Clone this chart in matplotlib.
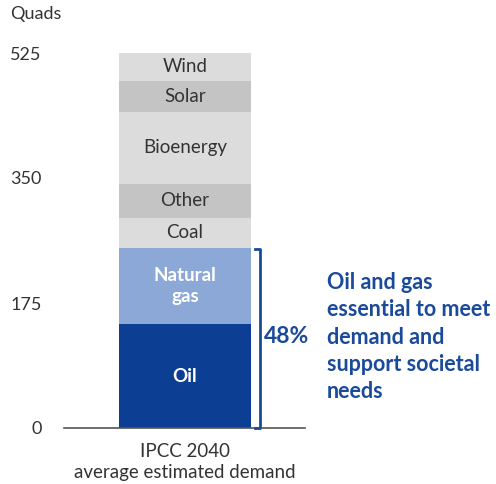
import matplotlib.pyplot as plt

plt.rcParams['font.family'] = ['Lato', 'DejaVu Sans']

# energy demand by source, quads (stacked bottom to top)
sources = ['Oil', 'Natural\ngas', 'Coal', 'Other', 'Bioenergy', 'Solar', 'Wind']
quads = [145, 107, 42, 48, 101, 43, 39]
colors = ['#0c3f93', '#8ca8d6', '#dcdcdc', '#c4c4c4', '#dcdcdc', '#c4c4c4', '#dcdcdc']
text_colors = ['white', 'white', '#333333', '#333333', '#333333', '#333333', '#333333']
yticks = [0, 175, 350, 525]
oil_gas_share = '48%'
note = 'Oil and gas\nessential to meet\ndemand and\nsupport societal\nneeds'
category = 'IPCC 2040\naverage estimated demand'

fig = plt.figure(figsize=(4.96, 4.84), dpi=100)
ax = fig.add_axes([64 / 496, 56 / 484, 241 / 496, 375 / 484])

bottom = 0
for name, val, col, tc in zip(sources, quads, colors, text_colors):
    ax.bar(0, val, width=0.55, bottom=bottom, color=col, edgecolor='none')
    bold = tc == 'white'
    ax.text(0, bottom + val / 2, name, ha='center', va='center', color=tc,
            fontsize=13.5, fontweight='bold' if bold else 'normal', linespacing=1.25)
    bottom += val

ax.set_xlim(-0.504, 0.5)
ax.set_ylim(0, 525)
for s in ax.spines.values():
    s.set_visible(False)
ax.axhline(0, color='#555555', lw=1.2, clip_on=False)

ax.set_yticks(yticks)
ax.set_yticklabels([str(t) for t in yticks], fontsize=13, color='#333333')
ax.tick_params(axis='y', length=0, pad=16)
ax.set_xticks([0])
ax.set_xticklabels([category], fontsize=13.5, color='#333333', linespacing=1.25)
ax.tick_params(axis='x', length=0, pad=11)

fig.text(10 / 496, 1 - 14 / 484, 'Quads', fontsize=13, color='#333333', va='center')

# bracket spanning oil + gas
og = quads[0] + quads[1]
blue = '#1a4a9a'
bx = 0.312
ax.plot([bx - 0.02, bx, bx, bx - 0.02], [og - 1, og - 1, 0.5, 0.5], color=blue, lw=2, clip_on=False)
ax.text(bx + 0.015, og * 0.51, oil_gas_share, color=blue, fontsize=16.5, fontweight='bold', va='center', ha='left')
fig.text(327 / 496, 1 - 337 / 484, note, color=blue, fontsize=15.5, fontweight='bold',
         va='center', ha='left', linespacing=1.38)

fig.savefig('out.png', dpi=100)
